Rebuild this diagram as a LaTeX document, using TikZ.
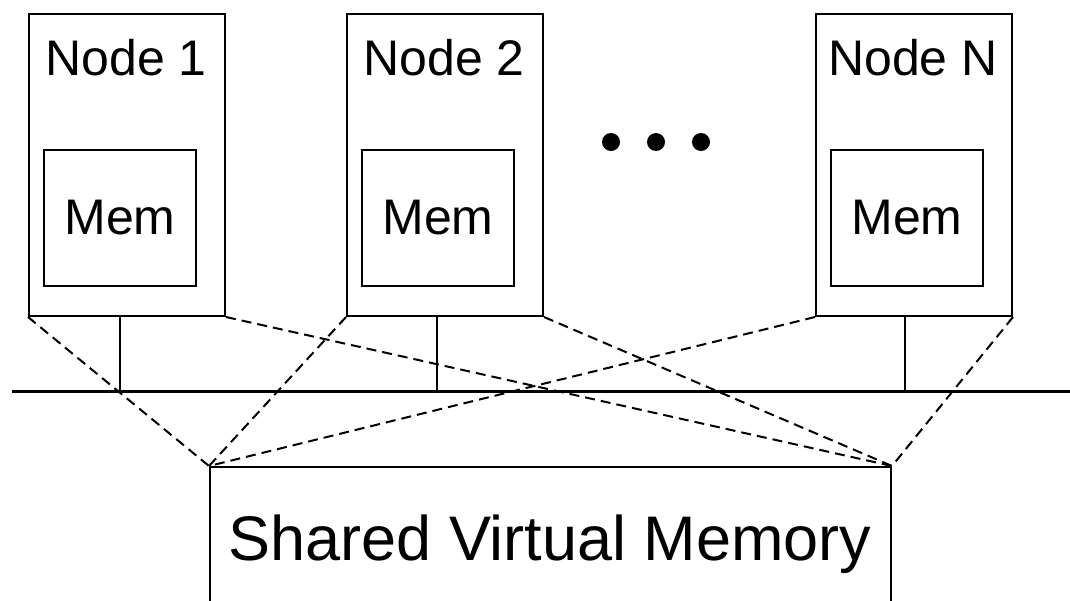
\documentclass[tikz,border=0pt]{standalone}
\usepackage{fontspec}
\setmainfont{Liberation Sans}
\begin{document}
\begin{tikzpicture}[x=1pt,y=-1pt,
  box/.style={draw, line width=2pt, rectangle, inner sep=0pt},
  nodebox/.style={box, minimum width=196pt, minimum height=302pt, anchor=north west},
  membox/.style={box, minimum width=152pt, minimum height=136pt, anchor=north west, font=\fontsize{50}{60}\selectfont},
  lbl/.style={anchor=base, inner sep=0pt, font=\fontsize{50}{60}\selectfont},
  link/.style={line width=2pt, dash pattern=on 10pt off 6pt},
  drop/.style={line width=2pt},
  bus/.style={line width=3pt}]
\useasboundingbox (0,0) rectangle (1070,600);
% node boxes
\node[nodebox] (n1) at (28,13) {};
\node[nodebox] (n2) at (346,13) {};
\node[nodebox] (nN) at (815,13) {};
\node[lbl] (t1) at (126,75) {Node 1};
\node[lbl] (t2) at (444,75) {Node 2};
\node[lbl] (tN) at (913,75) {Node N};
% memories
\node[membox] (m1) at (43,149) {Mem};
\node[membox] (m2) at (361,149) {Mem};
\node[membox] (mN) at (830,149) {Mem};
% dots
\fill (611,142) circle (9pt);
\fill (656,142) circle (9pt);
\fill (701,142) circle (9pt);
% bus
\coordinate (busL) at (12,391);
\coordinate (busR) at (1072,391);
\draw[bus] (busL) -- (busR);
\coordinate (b1) at (120,391);
\coordinate (b2) at (437,391);
\coordinate (bN) at (905,391);
\draw[drop] (b1 |- n1.south) -- (b1);
\draw[drop] (b2 |- n2.south) -- (b2);
\draw[drop] (bN |- nN.south) -- (bN);
% shared virtual memory
\node[box, minimum width=681pt, minimum height=160pt, anchor=north west,
      font=\fontsize{63}{75}\selectfont, text depth=0pt] (svm) at (209,466) {};
\node[lbl, font=\fontsize{63}{75}\selectfont] (svmt) at (550,560) {Shared Virtual Memory};
% dashed mapping lines
\draw[link] (n1.south west) -- (svm.north west);
\draw[link] (n1.south east) -- (svm.north east);
\draw[link] (n2.south west) -- (svm.north west);
\draw[link] (n2.south east) -- (svm.north east);
\draw[link] (nN.south west) -- (svm.north west);
\draw[link] (nN.south east) -- (svm.north east);
\end{tikzpicture}
\end{document}
